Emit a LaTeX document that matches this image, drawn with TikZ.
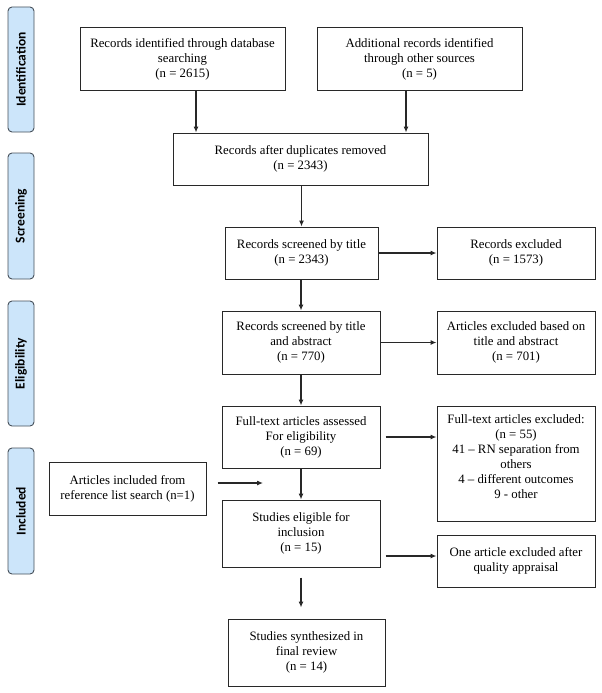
\documentclass[tikz,border=0pt]{standalone}
\usepackage{fontspec}
\setmainfont{Liberation Serif}
\newfontfamily\lblfont{Carlito}
\usetikzlibrary{arrows.meta,calc}
\definecolor{phasefill}{RGB}{204,229,250}
\definecolor{phaseline}{RGB}{70,80,90}
\definecolor{lineclr}{RGB}{40,40,40}
\tikzset{
  boxnode/.style={draw=lineclr, line width=1pt, inner sep=0pt, align=center,
    font=\fontsize{12.8}{15}\selectfont},
  phasebox/.style={draw=phaseline, line width=0.9pt, fill=phasefill, rounded corners=4pt,
    minimum width=26pt, inner sep=0pt},
  phasetext/.style={rotate=90, font=\lblfont\bfseries\fontsize{13.5}{15}\selectfont},
  arr/.style={draw=lineclr, line width=1.1pt, -{Latex[length=6pt,width=5pt]}}
}
\begin{document}
\begin{tikzpicture}[x=1pt,y=-1pt]
\useasboundingbox (0,0) rectangle (602,693);
% phase labels
\node[phasebox, minimum height=125pt] (P1) at (21,69.5) {};
\node[phasetext] (P1t) at (P1.center) {Identification};
\node[phasebox, minimum height=126pt] (P2) at (21,216) {};
\node[phasetext] (P2t) at (P2.center) {Screening};
\node[phasebox, minimum height=125pt] (P3) at (21,363.5) {};
\node[phasetext] (P3t) at (P3.center) {Eligibility};
\node[phasebox, minimum height=126pt] (P4) at (21,511) {};
\node[phasetext] (P4t) at (P4.center) {Included};
% boxes
\node[boxnode, minimum width=205pt, minimum height=62pt] (B1) at (182.5,59) {Records identified through database\\searching\\(n = 2615)};
\node[boxnode, minimum width=205pt, minimum height=62pt] (B2) at (419.5,59) {Additional records identified\\through other sources\\(n = 5)};
\node[boxnode, minimum width=255pt, minimum height=52pt] (B3) at (300.5,159) {Records after duplicates removed\\(n = 2343)};
\node[boxnode, minimum width=153pt, minimum height=52pt] (B4) at (301.5,253) {Records screened by title\\(n = 2343)};
\node[boxnode, minimum width=158pt, minimum height=52pt] (B5) at (516,253) {Records excluded\\(n = 1573)};
\node[boxnode, minimum width=158pt, minimum height=63pt] (B6) at (301,342.5) {Records screened by title\\and abstract\\(n = 770)};
\node[boxnode, minimum width=158pt, minimum height=63pt] (B7) at (516,342.5) {Articles excluded based on\\title and abstract\\(n = 701)};
\node[boxnode, minimum width=158pt, minimum height=62pt] (B8) at (301,437) {Full-text articles assessed\\For eligibility\\(n = 69)};
\node[boxnode, minimum width=158pt, minimum height=115pt] (B9) at (516,463.5) {};
\node[font=\fontsize{12.8}{15}\selectfont, align=center, anchor=north, inner sep=0pt] (B9t) at ([yshift=-9pt]B9.north) {Full-text articles excluded:\\(n = 55)\\41 -- RN separation from\\others\\4 -- different outcomes\\9 - other};
\node[boxnode, minimum width=157pt, minimum height=53pt] (B10) at (127.5,488.5) {Articles included from\\reference list search (n=1)};
\node[boxnode, minimum width=158pt, minimum height=67pt] (B11) at (301,533.5) {Studies eligible for\\inclusion\\(n = 15)};
\node[boxnode, minimum width=158pt, minimum height=52pt] (B12) at (516,561) {One article excluded after\\quality appraisal};
\node[boxnode, minimum width=157pt, minimum height=67pt] (B13) at (306.5,652.5) {Studies synthesized in\\final review\\(n = 14)};
% connectors
\coordinate (refend) at (263,483);
\draw[arr] (B1.south -| 196,0) -- (B3.north -| 196,0);
\draw[arr] (B2.south -| 406,0) -- (B3.north -| 406,0);
\draw[arr] (B3.south -| B4.north) -- (B4.north);
\draw[arr] (B4.east) -- (B5.west);
\draw[arr] (B4.south -| B6.north) -- (B6.north);
\draw[arr] (B6.east) -- (B7.west |- B6.east);
\draw[arr] (B6.south) -- (B8.north);
\draw[arr] ($(B8.east)+(5,0)$) -- (B9.west |- B8.east);
\draw[arr] (B8.south) -- (B11.north);
\draw[arr] ($(B10.east |- refend)+(11,0)$) -- (refend);
\draw[arr] ($(B11.east)+(5,22.5)$) -- ($(B12.west)+(0,-5)$);
\draw[arr] ($(B11.south)+(0,10)$) -- ($(B11.south |- B13.north)+(0,-11)$);
\end{tikzpicture}
\end{document}
